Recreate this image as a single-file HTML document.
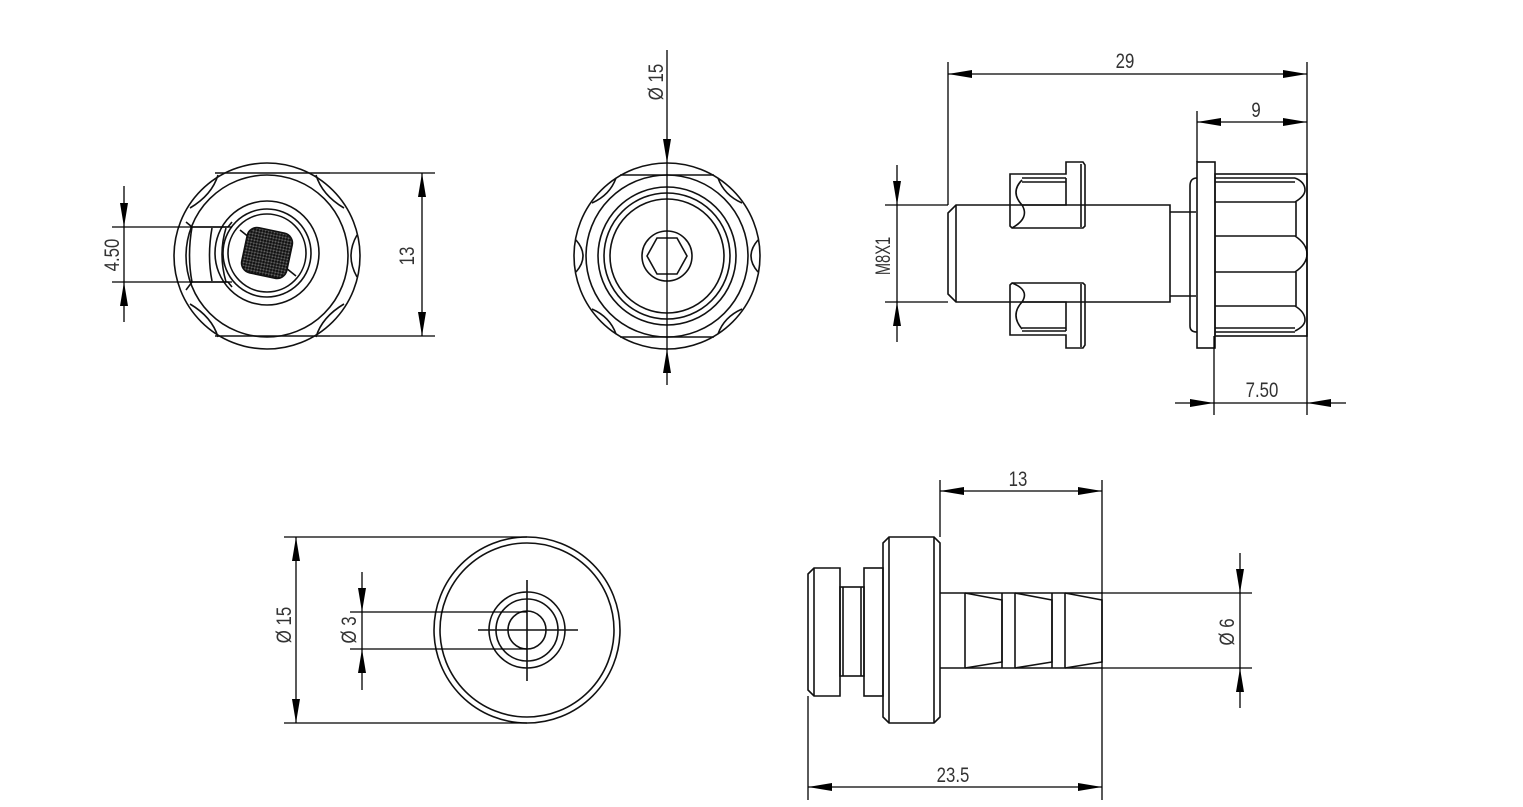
<!DOCTYPE html>
<html><head><meta charset="utf-8"><style>
html,body{margin:0;padding:0;background:#fff}
svg{display:block}
text{font-family:"Liberation Sans",sans-serif;font-size:21px;fill:#333}
</style></head><body>
<svg width="1523" height="807" viewBox="0 0 1523 807" xmlns="http://www.w3.org/2000/svg">
<defs>
<marker id="a" viewBox="0 0 24 8" refX="24" refY="4" markerWidth="24" markerHeight="8" markerUnits="userSpaceOnUse" orient="auto-start-reverse"><path d="M0,0 L24,4 L0,8 Z" fill="#000"/></marker>
<pattern id="mesh" width="3" height="3" patternUnits="userSpaceOnUse"><rect width="3" height="3" fill="#555"/><circle cx="1.5" cy="1.5" r="1.3" fill="#111"/><circle cx="0" cy="0" r="0.4" fill="#fff"/></pattern>
</defs>
<g fill="none" stroke="#111" stroke-width="1.6">

<!-- ===== TOP LEFT ===== -->
<circle cx="267" cy="256" r="93"/>
<circle cx="267" cy="256" r="81"/>
<path d="M218,175 Q212,195 190,208"/>
<path d="M316,175 Q322,195 344,208"/>
<path d="M218,337 Q212,317 190,304"/>
<path d="M316,337 Q322,317 344,304"/>
<path d="M357,235 Q345,256 357,277"/>
<line x1="215" y1="173" x2="330" y2="173"/>
<line x1="215" y1="336" x2="330" y2="336"/>
<!-- slot -->
<path d="M186,222 L192,227 L228,227 L232,222"/>
<path d="M186,290 L192,282 L228,282 L232,287"/>
<path d="M192,227 Q187,256 192,282"/>
<path d="M212,228 Q207,256 212,281"/>
<path d="M226,228 Q218,254 226,282"/>
<circle cx="267" cy="253" r="52"/>
<circle cx="267" cy="253" r="44"/>
<circle cx="267" cy="253" r="39"/>
<line x1="240" y1="230" x2="250" y2="238"/>
<line x1="286" y1="268" x2="296" y2="276"/>
<rect x="244" y="230" width="46" height="46" rx="10" fill="url(#mesh)" transform="rotate(12 267 253)"/>

<!-- ===== TOP MIDDLE ===== -->
<circle cx="667" cy="256" r="93"/>
<circle cx="667" cy="256" r="81"/>
<circle cx="667" cy="256" r="69"/>
<circle cx="667" cy="256" r="63"/>
<circle cx="667" cy="256" r="57"/>
<circle cx="667" cy="256" r="25"/>
<polygon points="647,256 657,238 677,238 687,256 677,274 657,274"/>
<path d="M616,178 Q610,195 592,203"/>
<path d="M718,178 Q724,195 742,203"/>
<path d="M616,334 Q610,317 592,309"/>
<path d="M718,334 Q724,317 742,309"/>
<path d="M576,240 Q590,256 576,272"/>
<path d="M758,240 Q744,256 758,272"/>
<line x1="620" y1="175" x2="714" y2="175"/>
<line x1="620" y1="337" x2="714" y2="337"/>

<!-- ===== TOP RIGHT ===== -->
<path d="M956,205 L1170,205 L1170,302 L956,302 L948,294 L948,213 Z"/>
<line x1="956" y1="205" x2="956" y2="302"/>
<path d="M1170,212 L1196,212 M1170,296 L1196,296"/>
<path d="M1010,174 L1066,174 L1066,162 L1083,162 L1085,165 L1085,226 L1083,228 L1012,228 L1010,226 Z"/>
<path d="M1022,178 L1066,178 M1022,182 L1066,182"/>
<path d="M1022,205 L1066,205 L1066,178"/>
<path d="M1022,180 Q1010,192 1022,205"/>
<path d="M1022,205 Q1030,218 1012,228"/>
<line x1="1081" y1="164" x2="1081" y2="227"/>
<path d="M1010,335 L1066,335 L1066,348 L1083,348 L1085,345 L1085,285 L1083,283 L1012,283 L1010,285 Z"/>
<path d="M1022,331 L1066,331 M1022,328 L1066,328"/>
<path d="M1022,302 L1066,302 L1066,331"/>
<path d="M1022,329 Q1010,315 1022,302"/>
<path d="M1022,302 Q1030,290 1012,283"/>
<line x1="1081" y1="284" x2="1081" y2="347"/>
<rect x="1197" y="162" width="18" height="186"/>
<path d="M1197,178 Q1190,178 1190,186 L1190,326 Q1190,332 1197,332"/>
<rect x="1215" y="174" width="92" height="162"/>
<path d="M1215,178 L1295,178 M1215,182 L1295,182"/>
<path d="M1215,328 L1295,328 M1215,332 L1295,332"/>
<path d="M1215,202 L1295,202 Q1305,196 1305,190 Q1305,182 1295,178"/>
<path d="M1215,236 L1295,236 Q1307,244 1307,254 Q1307,264 1295,272 L1215,272"/>
<path d="M1215,306 L1295,306 Q1305,312 1305,320 Q1305,326 1295,331"/>
<line x1="1296" y1="202" x2="1296" y2="236"/>
<line x1="1296" y1="272" x2="1296" y2="306"/>

<!-- ===== BOTTOM LEFT ===== -->
<circle cx="527" cy="630" r="93"/>
<circle cx="527" cy="630" r="87"/>
<circle cx="527" cy="630" r="38"/>
<circle cx="527" cy="630" r="31"/>
<circle cx="527" cy="630" r="19"/>
<line x1="478" y1="630" x2="578" y2="630"/>
<line x1="527" y1="580" x2="527" y2="681"/>

<!-- ===== BOTTOM RIGHT ===== -->
<path d="M814,568 L840,568 L840,696 L814,696 L808,690 L808,574 Z"/>
<line x1="814" y1="568" x2="814" y2="696"/>
<rect x="840" y="587" width="24" height="89"/>
<line x1="843" y1="587" x2="843" y2="676"/>
<line x1="861" y1="587" x2="861" y2="676"/>
<rect x="864" y="568" width="19" height="128"/>
<path d="M889,537 L934,537 L940,543 L940,717 L934,723 L889,723 L883,717 L883,543 Z"/>
<line x1="889" y1="537" x2="889" y2="723"/>
<line x1="934" y1="537" x2="934" y2="723"/>
<line x1="940" y1="593" x2="1102" y2="593"/>
<line x1="940" y1="668" x2="1102" y2="668"/>
<line x1="965" y1="593" x2="965" y2="668"/>
<path d="M965,593 L1002,600 L1002,662 L965,668"/>
<line x1="1002" y1="593" x2="1002" y2="668"/>
<line x1="1015" y1="593" x2="1015" y2="668"/>
<path d="M1015,593 L1052,600 L1052,662 L1015,668"/>
<line x1="1052" y1="593" x2="1052" y2="668"/>
<line x1="1065" y1="593" x2="1065" y2="668"/>
<path d="M1065,593 L1102,600 L1102,662 L1065,668"/>
</g>

<!-- ===== DIMENSIONS ===== -->
<g fill="none" stroke="#000" stroke-width="1.3">
<line x1="330" y1="173" x2="435" y2="173"/>
<line x1="330" y1="336" x2="435" y2="336"/>
<line x1="422" y1="173" x2="422" y2="336" marker-start="url(#a)" marker-end="url(#a)"/>
<line x1="112" y1="227" x2="232" y2="227"/>
<line x1="112" y1="282" x2="232" y2="282"/>
<line x1="124" y1="186" x2="124" y2="227" marker-end="url(#a)"/>
<line x1="124" y1="322" x2="124" y2="282" marker-end="url(#a)"/>
<line x1="124" y1="227" x2="124" y2="282"/>
<line x1="667" y1="50" x2="667" y2="163" marker-end="url(#a)"/>
<line x1="667" y1="163" x2="667" y2="349"/>
<line x1="667" y1="385" x2="667" y2="349" marker-end="url(#a)"/>
<line x1="948" y1="62" x2="948" y2="205"/>
<line x1="1307" y1="62" x2="1307" y2="415"/>
<line x1="948" y1="74" x2="1307" y2="74" marker-start="url(#a)" marker-end="url(#a)"/>
<line x1="1197" y1="111" x2="1197" y2="162"/>
<line x1="1197" y1="122" x2="1307" y2="122" marker-start="url(#a)" marker-end="url(#a)"/>
<line x1="1214" y1="336" x2="1214" y2="415"/>
<line x1="1175" y1="403" x2="1214" y2="403" marker-end="url(#a)"/>
<line x1="1346" y1="403" x2="1307" y2="403" marker-end="url(#a)"/>
<line x1="1214" y1="403" x2="1307" y2="403"/>
<line x1="885" y1="205" x2="948" y2="205"/>
<line x1="885" y1="302" x2="948" y2="302"/>
<line x1="897" y1="165" x2="897" y2="205" marker-end="url(#a)"/>
<line x1="897" y1="342" x2="897" y2="302" marker-end="url(#a)"/>
<line x1="897" y1="205" x2="897" y2="302"/>
<line x1="284" y1="537" x2="527" y2="537"/>
<line x1="284" y1="723" x2="527" y2="723"/>
<line x1="296" y1="537" x2="296" y2="723" marker-start="url(#a)" marker-end="url(#a)"/>
<line x1="350" y1="612" x2="527" y2="612"/>
<line x1="350" y1="649" x2="527" y2="649"/>
<line x1="362" y1="572" x2="362" y2="612" marker-end="url(#a)"/>
<line x1="362" y1="690" x2="362" y2="649" marker-end="url(#a)"/>
<line x1="362" y1="612" x2="362" y2="649"/>
<line x1="940" y1="480" x2="940" y2="537"/>
<line x1="1102" y1="480" x2="1102" y2="800"/>
<line x1="940" y1="491" x2="1102" y2="491" marker-start="url(#a)" marker-end="url(#a)"/>
<line x1="808" y1="696" x2="808" y2="800"/>
<line x1="808" y1="787" x2="1102" y2="787" marker-start="url(#a)" marker-end="url(#a)"/>
<line x1="1102" y1="593" x2="1252" y2="593"/>
<line x1="1102" y1="668" x2="1252" y2="668"/>
<line x1="1240" y1="553" x2="1240" y2="593" marker-end="url(#a)"/>
<line x1="1240" y1="708" x2="1240" y2="668" marker-end="url(#a)"/>
<line x1="1240" y1="593" x2="1240" y2="668"/>
</g>

<!-- ===== TEXT ===== -->
<g text-anchor="middle">
<text transform="translate(1125,68) scale(0.8,1)">29</text>
<text transform="translate(1256,117) scale(0.8,1)">9</text>
<text transform="translate(1262,397) scale(0.8,1)">7.50</text>
<text transform="translate(1018,486) scale(0.8,1)">13</text>
<text transform="translate(953,782) scale(0.8,1)">23.5</text>
<text transform="translate(414,256) rotate(-90) scale(0.8,1)">13</text>
<text transform="translate(119,255) rotate(-90) scale(0.8,1)">4.50</text>
<text transform="translate(663,82) rotate(-90) scale(0.8,1)">Ø 15</text>
<text transform="translate(890,256) rotate(-90) scale(0.7,1)">M8X1</text>
<text transform="translate(291,625) rotate(-90) scale(0.8,1)">Ø 15</text>
<text transform="translate(356,630) rotate(-90) scale(0.8,1)">Ø 3</text>
<text transform="translate(1234,632) rotate(-90) scale(0.8,1)">Ø 6</text>
</g>
</svg>
</body></html>
